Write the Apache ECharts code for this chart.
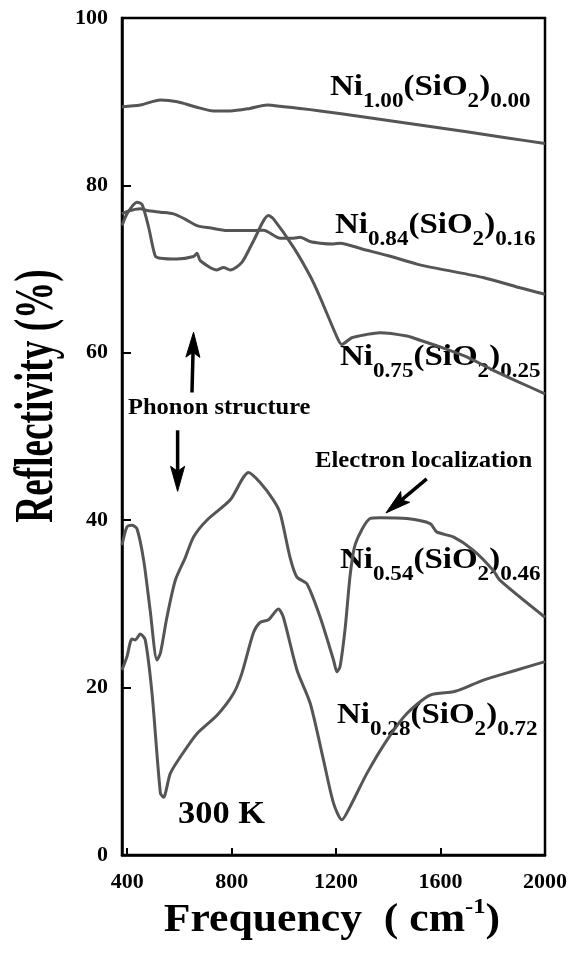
<!DOCTYPE html>
<html>
<head>
<meta charset="utf-8">
<script src="https://cdn.jsdelivr.net/npm/echarts@6/dist/echarts.min.js"></script>
<style>
  html, body { margin: 0; padding: 0; background: #fff; }
  #chart { width: 572px; height: 962px; }
</style>
</head>
<body>
<div id="chart"></div>
<script>
// Infrared reflectivity spectra of Ni(x)(SiO2)(1-x) films at 300 K

const xTicks = [400, 800, 1200, 1600, 2000];

const niFrac = ['1.00', '0.84', '0.75', '0.54', '0.28'];
const sioFrac = ['0.00', '0.16', '0.25', '0.46', '0.72'];

const freqNi100 = [380, 450, 527, 592, 660, 730, 795, 870, 936, 1000, 1062, 1139, 1300, 1500, 1700, 1850, 2000];
const reflNi100 = [89.4, 89.6, 90.2, 90.0, 89.4, 88.9, 88.9, 89.2, 89.6, 89.4, 89.2, 88.9, 88.2, 87.3, 86.4, 85.7, 85.0];

const freqNi84 = [380, 400, 450, 476, 527, 577, 620, 667, 720, 782, 850, 922, 986, 1037, 1062, 1100, 1139, 1190, 1215, 1300, 1400, 1509, 1600, 1763, 1900, 2000];
const reflNi84 = [76.6, 76.9, 77.2, 77.0, 76.8, 76.6, 76.0, 75.2, 74.9, 74.6, 74.6, 74.65, 73.7, 73.7, 73.8, 73.3, 73.1, 73.0, 73.1, 72.4, 71.6, 70.6, 70.0, 69.0, 67.8, 67.0];

const freqNi75 = [380, 399, 437, 457, 482, 507, 527, 590, 654, 667, 680, 744, 769, 794, 839, 884, 941, 960, 1037, 1100, 1139, 1203, 1222, 1260, 1318, 1368, 1471, 1522, 1598, 1700, 1802, 1900, 2000];
const reflNi75 = [75.2, 76.6, 78.0, 77.7, 75.0, 71.6, 71.3, 71.2, 71.5, 71.9, 71.0, 69.9, 70.2, 69.9, 70.8, 73.4, 76.4, 76.0, 72.6, 69.2, 66.6, 61.9, 61.0, 61.8, 62.2, 62.4, 62.0, 61.5, 60.7, 59.5, 57.9, 56.5, 55.1];

const freqNi54 = [380, 399, 418, 437, 463, 488, 514, 527, 552, 584, 622, 654, 705, 794, 865, 909, 960, 986, 1024, 1050, 1088, 1139, 1190, 1203, 1215, 1235, 1254, 1274, 1330, 1368, 1471, 1560, 1585, 1649, 1726, 1802, 1828, 2000];
const reflNi54 = [37.0, 39.2, 39.4, 39.0, 35.2, 29.2, 23.3, 24.1, 28.4, 32.8, 35.5, 38.0, 40.0, 42.4, 45.7, 44.5, 42.4, 40.8, 35.5, 33.2, 32.4, 28.4, 23.3, 21.9, 22.5, 27.2, 33.5, 37.2, 40.2, 40.3, 40.2, 39.6, 38.6, 38.0, 36.4, 34.0, 32.8, 28.4];

const freqNi28 = [380, 399, 418, 431, 450, 469, 495, 527, 539, 565, 603, 667, 744, 807, 839, 884, 909, 941, 979, 998, 1050, 1101, 1152, 1190, 1222, 1254, 1318, 1394, 1471, 1560, 1649, 1688, 1764, 1892, 2000];
const reflNi28 = [22.1, 23.7, 25.8, 25.7, 26.4, 25.7, 19.3, 7.4, 6.9, 9.75, 11.7, 14.5, 16.7, 19.3, 21.7, 26.6, 27.8, 28.1, 29.4, 28.4, 22.1, 18.1, 11.3, 6.2, 4.2, 5.8, 9.75, 13.7, 16.9, 19.1, 19.5, 19.9, 20.9, 22.1, 23.1];

const spectra = [
  [freqNi100, reflNi100],
  [freqNi84, reflNi84],
  [freqNi75, reflNi75],
  [freqNi54, reflNi54],
  [freqNi28, reflNi28]
];

// annotation arrows: tail frequency, tail reflectivity, tip frequency, tip reflectivity
const phononUpArrow = [648, 55.25, 654, 62.45];
const phononDownArrow = [593, 50.74, 593, 43.45];
const electronArrow = [1547, 44.93, 1391, 40.87];

const SERIF = "'Liberation Serif', 'Times New Roman', serif";
const LINE_COLOR = '#555555';

const formulaRich = {
  m: { fontSize: 30, fontWeight: 'bold', fontFamily: SERIF, color: '#000', lineHeight: 34, padding: [0, 0, 8, 0] },
  s: { fontSize: 21, fontWeight: 'bold', fontFamily: SERIF, color: '#000', lineHeight: 21, padding: [21, 0, 0, 0] }
};
function formula(a, b) {
  return '{m|Ni}{s|' + a + '}{m|(SiO}{s|2}{m|)}{s|' + b + '}';
}

// top-left corners of the composition labels
const labelSpots = [[330, 74], [335, 212], [340, 344], [340, 547], [337, 702]];

function textEl(x, y, text, size, sx) {
  return {
    type: 'text', x: x, y: y, scaleX: sx, scaleY: 1, silent: true,
    style: {
      text: text, fill: '#000',
      font: 'bold ' + size + 'px ' + SERIF,
      fontSize: size, fontWeight: 'bold', fontFamily: SERIF,
      align: 'left', verticalAlign: 'middle',
      textAlign: 'left', textVerticalAlign: 'middle'
    }
  };
}

const graphics = [];
niFrac.forEach(function (a, i) {
  graphics.push({
    type: 'text', x: labelSpots[i][0], y: labelSpots[i][1], scaleX: 1.1, scaleY: 1, silent: true,
    style: {
      text: formula(a, sioFrac[i]), rich: formulaRich,
      align: 'left', verticalAlign: 'top', textAlign: 'left', textVerticalAlign: 'top'
    }
  });
});
graphics.push(textEl(128, 408, 'Phonon structure', 24, 1.02));
graphics.push(textEl(315, 461, 'Electron localization', 23, 1.075));
graphics.push(textEl(178, 815, '300 K', 31, 1.11));

// axis titles
graphics.push({
  type: 'text', x: 38, y: 396, rotation: Math.PI / 2, scaleX: 0.69, scaleY: 1, silent: true,
  style: {
    text: 'Reflectivity (%)', fill: '#000',
    font: 'bold 54px ' + SERIF, fontSize: 54, fontWeight: 'bold', fontFamily: SERIF,
    align: 'center', verticalAlign: 'middle', textAlign: 'center', textVerticalAlign: 'middle'
  }
});
graphics.push({
  type: 'text', x: 332, y: 894, scaleX: 1.12, scaleY: 1, silent: true,
  style: {
    text: '{m|Frequency  ( cm}{u|-1}{m|)}',
    rich: {
      m: { fontSize: 39, fontWeight: 'bold', fontFamily: SERIF, color: '#000', lineHeight: 44, padding: [10, 0, 0, 0] },
      u: { fontSize: 22, fontWeight: 'bold', fontFamily: SERIF, color: '#000', lineHeight: 22, padding: [0, 0, 18, 0] }
    },
    align: 'center', verticalAlign: 'top', textAlign: 'center', textVerticalAlign: 'top'
  }
});

const series = spectra.map(function (s, i) {
  return {
    type: 'line',
    name: 'Ni' + niFrac[i],
    data: s[0].map(function (f, k) { return [f, s[1][k]]; }),
    showSymbol: false,
    smooth: 0.25,
    lineStyle: { color: LINE_COLOR, width: 3 },
    silent: true
  };
});

// arrows: shaft plus a notched triangular head, placed through the axes
const HEAD_LEN = 25, HEAD_HALF = 7, NOTCH = 5;
series.push({
  type: 'custom',
  name: 'arrows',
  silent: true,
  data: [phononUpArrow, phononDownArrow, electronArrow],
  encode: { x: [0, 2], y: [1, 3] },
  renderItem: function (params, api) {
    const a = api.coord([api.value(0), api.value(1)]);
    const b = api.coord([api.value(2), api.value(3)]);
    const dx = b[0] - a[0], dy = b[1] - a[1];
    const len = Math.sqrt(dx * dx + dy * dy);
    const ux = dx / len, uy = dy / len;
    const nx = -uy, ny = ux;
    const base = [b[0] - ux * HEAD_LEN, b[1] - uy * HEAD_LEN];
    const notch = [b[0] - ux * (HEAD_LEN - NOTCH), b[1] - uy * (HEAD_LEN - NOTCH)];
    return {
      type: 'group',
      children: [
        {
          type: 'line',
          shape: { x1: a[0], y1: a[1], x2: notch[0], y2: notch[1] },
          style: { stroke: '#000', lineWidth: 3.5 }
        },
        {
          type: 'polygon',
          shape: {
            points: [
              b,
              [base[0] + nx * HEAD_HALF, base[1] + ny * HEAD_HALF],
              notch,
              [base[0] - nx * HEAD_HALF, base[1] - ny * HEAD_HALF]
            ]
          },
          style: { fill: '#000', stroke: '#000', lineWidth: 1 }
        }
      ]
    };
  }
});

const chart = echarts.init(document.getElementById('chart'), null, { renderer: 'canvas' });
chart.setOption({
  animation: false,
  backgroundColor: '#fff',
  grid: {
    left: 122, right: 27, top: 18, bottom: 107,
    show: true, borderColor: '#000', borderWidth: 2.5, backgroundColor: 'transparent'
  },
  xAxis: {
    type: 'value', min: 380, max: 2000,
    axisLine: { show: true, lineStyle: { color: '#000', width: 2.5 } },
    axisTick: { show: true, inside: true, length: 7, lineStyle: { color: '#000', width: 2 }, customValues: xTicks },
    axisLabel: {
      customValues: xTicks, color: '#000', fontSize: 22, fontWeight: 'bold', fontFamily: SERIF, margin: 16,
      formatter: function (v) { return String(v); }
    },
    splitLine: { show: false }
  },
  yAxis: {
    type: 'value', min: 0, max: 100, interval: 20,
    axisLine: { show: true, lineStyle: { color: '#000', width: 2.5 } },
    axisTick: { show: true, inside: true, length: 9, lineStyle: { color: '#000', width: 2 } },
    axisLabel: { color: '#000', fontSize: 22, fontWeight: 'bold', fontFamily: SERIF, margin: 14 },
    splitLine: { show: false }
  },
  graphic: { elements: graphics },
  series: series
});
</script>
</body>
</html>
